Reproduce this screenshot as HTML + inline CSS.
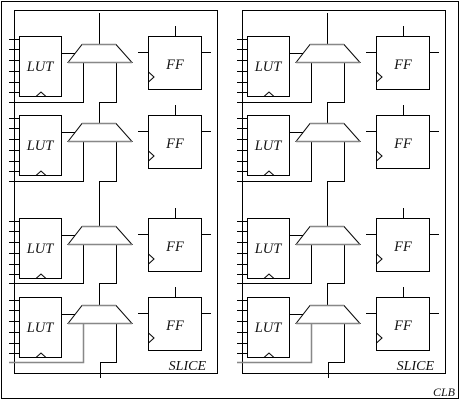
<!DOCTYPE html>
<html><head><style>html,body{margin:0;padding:0;background:#fff}</style></head><body>
<svg width="461" height="402" viewBox="0 0 461 402" xmlns="http://www.w3.org/2000/svg" font-family="Liberation Serif, serif" font-style="italic">
<rect x="1.5" y="1.5" width="457" height="397" fill="none" stroke="#000" stroke-width="1"/>
<defs>
<g id="unit" fill="none" stroke="#000" stroke-width="1">
  <rect x="19.5" y="0.5" width="42" height="60"/>
  <path d="M9 3.5H19.5M9 13.5H19.5M9 24.5H19.5M9 35.5H19.5M9 46.5H19.5M9 56.5H19.5"/>
  <path d="M36 60.5L41 56L46 60.5"/>
  <path d="M61.5 17.5H75"/>
  <rect x="148.5" y="0.5" width="53" height="53"/>
  <path d="M175.5 -10V0.5M138 16.5H148.5M201.5 16.5H211"/>
  <path d="M148.5 36L154 41L148.5 46"/>
  <text x="175" y="33" font-size="14.5" fill="#111" stroke="none" text-anchor="middle">FF</text>
  <text x="40" y="35" font-size="14.5" fill="#111" stroke="none" text-anchor="middle">LUT</text>
</g>
<g id="mux">
  <path d="M68 18.5L82 0.5H116L132 18.5Z" fill="#fff" stroke="#000" stroke-width="1"/>
  <path d="M82 0.5H116M68 18.5H132" stroke="#888" stroke-width="1.5"/>
</g>
<g id="slice" fill="none" stroke="#000" stroke-width="1">
  <rect x="14.5" y="10.5" width="203" height="363"/>
  <use href="#unit" y="36"/>
  <use href="#unit" y="115"/>
  <use href="#unit" y="218"/>
  <use href="#unit" y="297"/>
  <path d="M99.5 13V44M9 102.5H83.5V62M116.5 62V102.5H99.5V123"/>
  <path d="M9 181.5H83.5V141M116.5 141V181.5H99.5V226"/>
  <path d="M9 283.5H83.5V243M116.5 243V283.5H99.5V305"/>
  <path d="M116.5 323V362.5H100.5V378"/>
  <path d="M9 362.5H83.5V323" stroke="#888" stroke-width="1.5"/>
  <use href="#mux" y="44"/>
  <use href="#mux" y="123"/>
  <use href="#mux" y="226"/>
  <use href="#mux" y="305"/>
  <text x="206" y="370" font-size="14" fill="#111" stroke="none" text-anchor="end">SLICE</text>
</g>
</defs>
<use href="#slice"/>
<use href="#slice" x="228"/>
<text x="455" y="396" font-size="12" fill="#111" text-anchor="end">CLB</text>
</svg>
</body></html>
